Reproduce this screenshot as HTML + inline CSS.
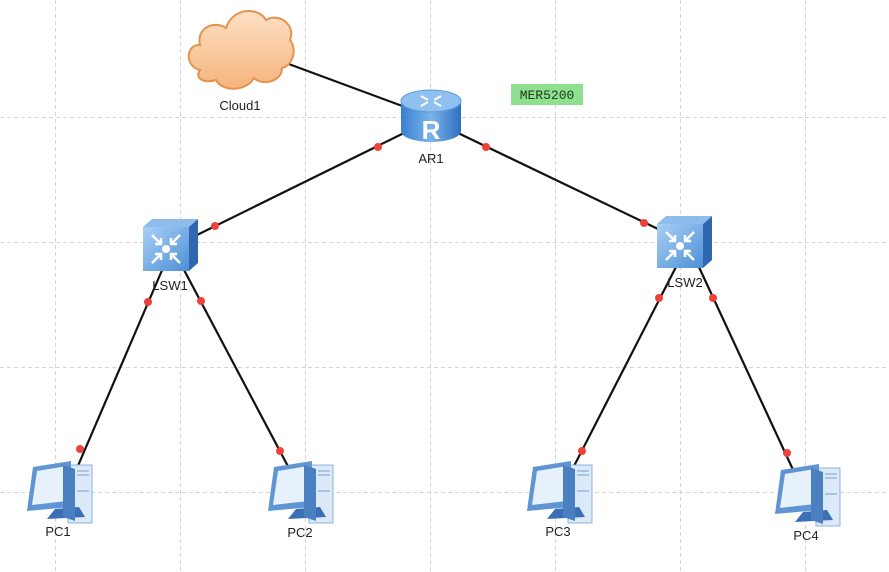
<!DOCTYPE html>
<html><head><meta charset="utf-8"><style>
html,body{margin:0;padding:0;background:#fff;}
svg{display:block;}
text{font-family:"Liberation Sans",Arial,sans-serif;font-size:13px;fill:#222;}
</style></head><body>
<svg width="889" height="572" viewBox="0 0 889 572" xmlns="http://www.w3.org/2000/svg">
<defs>
<linearGradient id="cl" x1="0" y1="0" x2="0" y2="1"><stop offset="0" stop-color="#fde0c4"/><stop offset="1" stop-color="#f6b47c"/></linearGradient>
<linearGradient id="rb" x1="0" y1="0" x2="1" y2="0"><stop offset="0" stop-color="#3b7fcf"/><stop offset="0.5" stop-color="#7ab4ec"/><stop offset="1" stop-color="#2f6fbf"/></linearGradient>
<linearGradient id="sw" x1="0" y1="0" x2="1" y2="1"><stop offset="0" stop-color="#a9d0f5"/><stop offset="1" stop-color="#4d8fd6"/></linearGradient>
<g id="sw1">
 <polygon points="0,8 9,0 55,0 46,8" fill="#8fbdeb"/>
 <polygon points="46,8 55,0 55,44 46,52" fill="#2f68b0"/>
 <rect x="0" y="8" width="46" height="44" fill="url(#sw)"/>
 <g stroke="#fff" stroke-width="2.5" fill="none">
  <path d="M9,16 L18,25 M18,19 L18,25 L12,25"/>
  <path d="M37,16 L28,25 M28,19 L28,25 L34,25"/>
  <path d="M9,44 L18,35 M18,41 L18,35 L12,35"/>
  <path d="M37,44 L28,35 M28,41 L28,35 L34,35"/>
 </g>
 <circle cx="23" cy="30" r="4" fill="#fff"/>
</g>
<g id="pc">
 <rect x="41" y="4" width="24" height="58" fill="#dbe9f8" stroke="#8db3dc"/>
 <line x1="50" y1="10" x2="62" y2="10" stroke="#7aa0cc"/>
 <line x1="50" y1="14" x2="62" y2="14" stroke="#7aa0cc"/>
 <line x1="50" y1="30" x2="62" y2="30" stroke="#7aa0cc"/>
 <polygon points="6,6 44,0 44,46 0,50" fill="#5f95d2"/>
 <polygon points="10,10 40,5 40,40 5,44" fill="#e6f1fb"/>
 <polygon points="28,48 52,46 58,56 20,58" fill="#3b6fb6"/>
 <polygon points="36,4 48,8 48,60 36,56" fill="#4a7fc0"/>
</g>
</defs>
<g stroke="#d4d4d4" stroke-width="1" stroke-dasharray="4,3">
 <line x1="55.5" y1="0" x2="55.5" y2="572"/><line x1="180.5" y1="0" x2="180.5" y2="572"/>
 <line x1="305.5" y1="0" x2="305.5" y2="572"/><line x1="430.5" y1="0" x2="430.5" y2="572"/>
 <line x1="555.5" y1="0" x2="555.5" y2="572"/><line x1="680.5" y1="0" x2="680.5" y2="572"/>
 <line x1="805.5" y1="0" x2="805.5" y2="572"/>
 <line x1="0" y1="117.5" x2="889" y2="117.5"/><line x1="0" y1="242.5" x2="889" y2="242.5"/>
 <line x1="0" y1="367.5" x2="889" y2="367.5"/><line x1="0" y1="492.5" x2="889" y2="492.5"/>
</g>
<g stroke="#111" stroke-width="2.2">
 <line x1="286" y1="63" x2="405" y2="107"/>
 <line x1="404" y1="133" x2="197" y2="235"/>
 <line x1="458" y1="133" x2="658" y2="229"/>
 <line x1="163" y1="268" x2="71" y2="482"/>
 <line x1="183" y1="268" x2="291" y2="472"/>
 <line x1="677" y1="265" x2="572" y2="470"/>
 <line x1="698" y1="265" x2="795" y2="474"/>
</g>
<path d="M200,70 C184,66 186,44 200,45 C196,28 214,20 226,28 C232,8 258,6 266,20 C280,12 296,26 290,40 C298,50 292,66 282,68 C282,82 262,86 254,78 C246,92 222,92 216,80 C204,84 194,78 200,70 Z" fill="url(#cl)" stroke="#e3934c" stroke-width="2"/>
<text x="240" y="110" text-anchor="middle">Cloud1</text>
<path d="M401,101 L401,131 A30,11 0 0 0 461,131 L461,101 Z" fill="url(#rb)"/>
<ellipse cx="431" cy="101" rx="30" ry="11" fill="#8ec0f0" stroke="#5b98d8"/>
<g stroke="#fff" stroke-width="2"><line x1="421" y1="96" x2="428" y2="100"/><line x1="441" y1="96" x2="434" y2="100"/><line x1="421" y1="106" x2="428" y2="102"/><line x1="441" y1="106" x2="434" y2="102"/></g>
<text x="431" y="139" text-anchor="middle" style="font-size:26px;fill:#fff;font-weight:bold">R</text>
<text x="431" y="163" text-anchor="middle">AR1</text>
<rect x="511" y="84" width="72" height="21" fill="#8ee08e"/>
<text x="547" y="99" text-anchor="middle" style="font-family:'Liberation Mono',monospace;font-size:13px;fill:#1a3a1a">MER5200</text>
<use href="#sw1" x="143" y="219"/>
<text x="170" y="290" text-anchor="middle">LSW1</text>
<use href="#sw1" x="657" y="216"/>
<text x="685" y="287" text-anchor="middle">LSW2</text>
<use href="#pc" x="27" y="461"/><text x="58" y="536" text-anchor="middle">PC1</text>
<use href="#pc" x="268" y="461"/><text x="300" y="537" text-anchor="middle">PC2</text>
<use href="#pc" x="527" y="461"/><text x="558" y="536" text-anchor="middle">PC3</text>
<use href="#pc" x="775" y="464"/><text x="806" y="540" text-anchor="middle">PC4</text>
<g fill="#f0403a">
 <circle cx="378" cy="147" r="4"/><circle cx="215" cy="226" r="4"/>
 <circle cx="486" cy="147" r="4"/><circle cx="644" cy="223" r="4"/>
 <circle cx="148" cy="302" r="4"/><circle cx="80" cy="449" r="4"/>
 <circle cx="201" cy="301" r="4"/><circle cx="280" cy="451" r="4"/>
 <circle cx="659" cy="298" r="4"/><circle cx="582" cy="451" r="4"/>
 <circle cx="713" cy="298" r="4"/><circle cx="787" cy="453" r="4"/>
</g>
</svg>
</body></html>
